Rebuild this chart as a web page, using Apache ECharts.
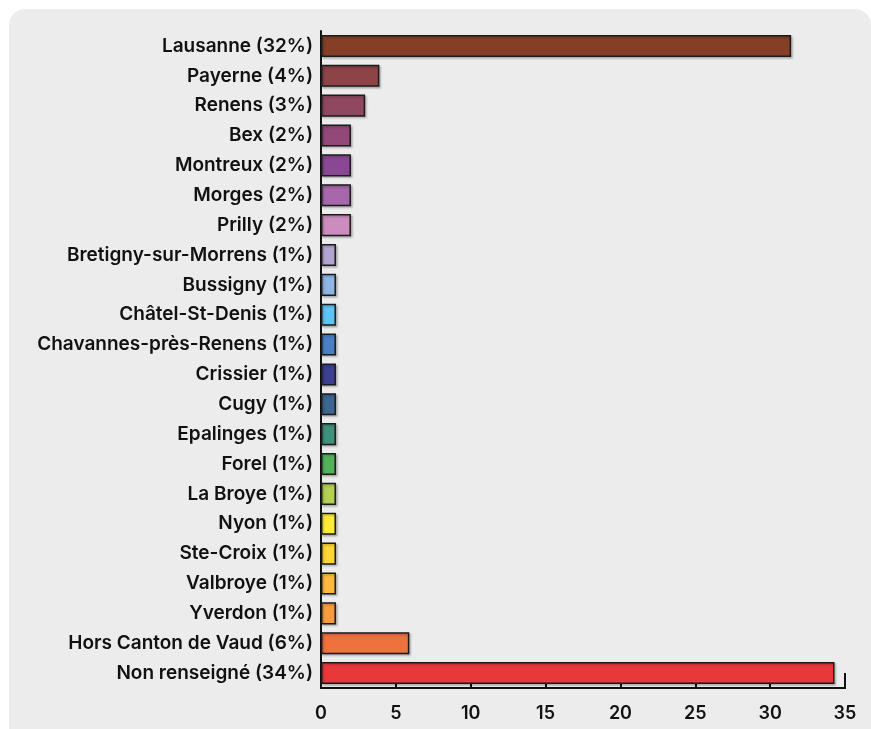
<!DOCTYPE html>
<html>
<head>
<meta charset="utf-8">
<style>
html,body{margin:0;padding:0;background:#ffffff;}
#chart{width:871px;height:729px;}
</style>
<script src="https://cdn.jsdelivr.net/npm/echarts@6/dist/echarts.min.js"></script>
</head>
<body>
<div id="chart"></div>
<script>
const categories = [
  "Lausanne (32%)", "Payerne (4%)", "Renens (3%)", "Bex (2%)", "Montreux (2%)",
  "Morges (2%)", "Prilly (2%)", "Bretigny-sur-Morrens (1%)", "Bussigny (1%)",
  "Châtel-St-Denis (1%)", "Chavannes-près-Renens (1%)", "Crissier (1%)",
  "Cugy (1%)", "Epalinges (1%)", "Forel (1%)", "La Broye (1%)", "Nyon (1%)",
  "Ste-Croix (1%)", "Valbroye (1%)", "Yverdon (1%)", "Hors Canton de Vaud (6%)",
  "Non renseigné (34%)"
];
const values = [31.4, 3.9, 2.95, 2, 2, 2, 2, 1, 1, 1, 1, 1, 1, 1, 1, 1, 1, 1, 1, 1, 5.9, 34.3];
const colors = [
  "#843f26", "#8e4347", "#904760", "#93487a", "#8b4795", "#a866ac", "#cc8cbe",
  "#b3a3d0", "#8fb5e3", "#5ec4f2", "#4b7fc4", "#3d3f92", "#3c6690", "#3f917c",
  "#52b35a", "#b3d052", "#feeb37", "#fed634", "#fdb83e", "#f79b3f", "#f0713d",
  "#e8383a"
];
const xTicks = [0, 5, 10, 15, 20, 25, 30, 35];

const chart = echarts.init(document.getElementById('chart'), null, {renderer: 'canvas'});
const fontFamily = 'Inter, "Noto Sans", sans-serif';
const bg = {
  type: 'rect', z: -10, silent: true,
  shape: {x: 9, y: 9, width: 862, height: 740, r: 16},
  style: {fill: '#ebeceb'}
};
chart.setOption({
  backgroundColor: '#ffffff',
  animation: false,
  graphic: [bg],
  grid: {left: 321, right: 26, top: 31, bottom: 41, containLabel: false},
  xAxis: {
    type: 'value', min: xTicks[0], max: xTicks[xTicks.length - 1], interval: 5,
    axisLine: {show: true, lineStyle: {color: '#111', width: 2}},
    axisTick: {show: true, inside: true, length: 5, lineStyle: {color: '#111', width: 2}},
    splitLine: {show: false},
    axisLabel: {color: '#111', fontFamily: fontFamily, fontWeight: 600, fontSize: 18, margin: 17}
  },
  yAxis: {
    type: 'category', data: categories, inverse: true,
    axisLine: {show: true, lineStyle: {color: '#111', width: 2}},
    axisTick: {show: false},
    axisLabel: {color: '#111', fontFamily: fontFamily, fontWeight: 600, fontSize: 19, margin: 8}
  },
  series: [{
    type: 'bar',
    barCategoryGap: '26%',
    data: values.map((v, i) => ({
      value: v,
      itemStyle: {
        color: colors[i], borderColor: '#1a1a1a', borderWidth: 1.5,
        shadowColor: 'rgba(0,0,0,0.22)', shadowOffsetX: 1.5, shadowOffsetY: 1.5, shadowBlur: 2
      }
    }))
  }]
});

// long end tick at the maximum of the x axis
const pEnd = chart.convertToPixel({gridIndex: 0}, [xTicks[xTicks.length - 1], categories[categories.length - 1]]);
const gridRect = chart.getModel().getComponent('grid').coordinateSystem.getRect();
chart.setOption({
  graphic: [bg, {
    type: 'line', z: 10, silent: true,
    shape: {x1: pEnd[0], y1: pEnd[1], x2: pEnd[0], y2: gridRect.y + gridRect.height + 1},
    style: {stroke: '#111', lineWidth: 2}
  }]
});
</script>
</body>
</html>
